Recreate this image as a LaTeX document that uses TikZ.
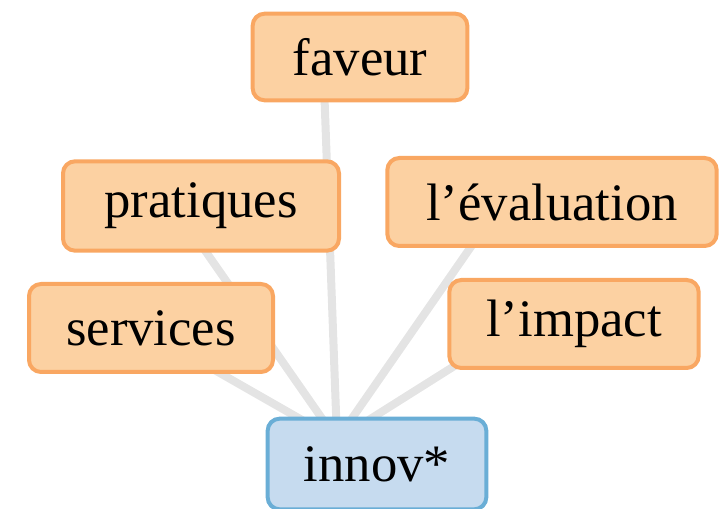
\documentclass[tikz,border=0pt]{standalone}
\usepackage{fontspec}
\setmainfont{Liberation Serif}
\definecolor{ofill}{HTML}{FCD1A2}
\definecolor{odraw}{HTML}{F9A762}
\definecolor{bfill}{HTML}{C6DBEF}
\definecolor{bdraw}{HTML}{6AAED6}
\definecolor{edgegray}{HTML}{E4E4E4}
\tikzset{
  term/.style={draw=odraw, fill=ofill, line width=3pt, rounded corners=9pt,
    inner sep=0pt, font=\fontsize{39.5}{44}\selectfont, text=black},
  hubbox/.style={draw=bdraw, fill=bfill, line width=3pt, rounded corners=9pt,
    inner sep=0pt, font=\fontsize{39.5}{44}\selectfont, text=black},
  link/.style={draw=edgegray, line width=6pt}
}
\begin{document}
\begin{tikzpicture}[x=0.75pt,y=-0.75pt]
\useasboundingbox (0,0) rectangle (722,509);
\coordinate (hub) at (337,440);
\coordinate (fEnd) at (323,57);
\coordinate (pEnd) at (174,206);
\coordinate (eEnd) at (502,202);
\coordinate (sEnd) at (141,328);
\coordinate (iEnd) at (521,324);
\draw[link] (hub) -- (fEnd);
\draw[link] (hub) -- (pEnd);
\draw[link] (hub) -- (eEnd);
\draw[link] (hub) -- (sEnd);
\draw[link] (hub) -- (iEnd);
\node[term, minimum width=161pt, minimum height=65pt] (faveur) at (360,57) {faveur};
\node[term, minimum width=207pt, minimum height=67pt] (pratiques) at (201,206) {pratiques};
\node[term, minimum width=247pt, minimum height=66pt] (evaluation) at (552,202) {l’évaluation};
\node[term, minimum width=183pt, minimum height=66pt] (services) at (151,328) {services};
\node[term, minimum width=187pt, minimum height=66pt] (impact) at (574,324) {l’impact};
\node[hubbox, minimum width=164pt, minimum height=68pt] (innov) at (377,464) {innov*};
\end{tikzpicture}
\end{document}
